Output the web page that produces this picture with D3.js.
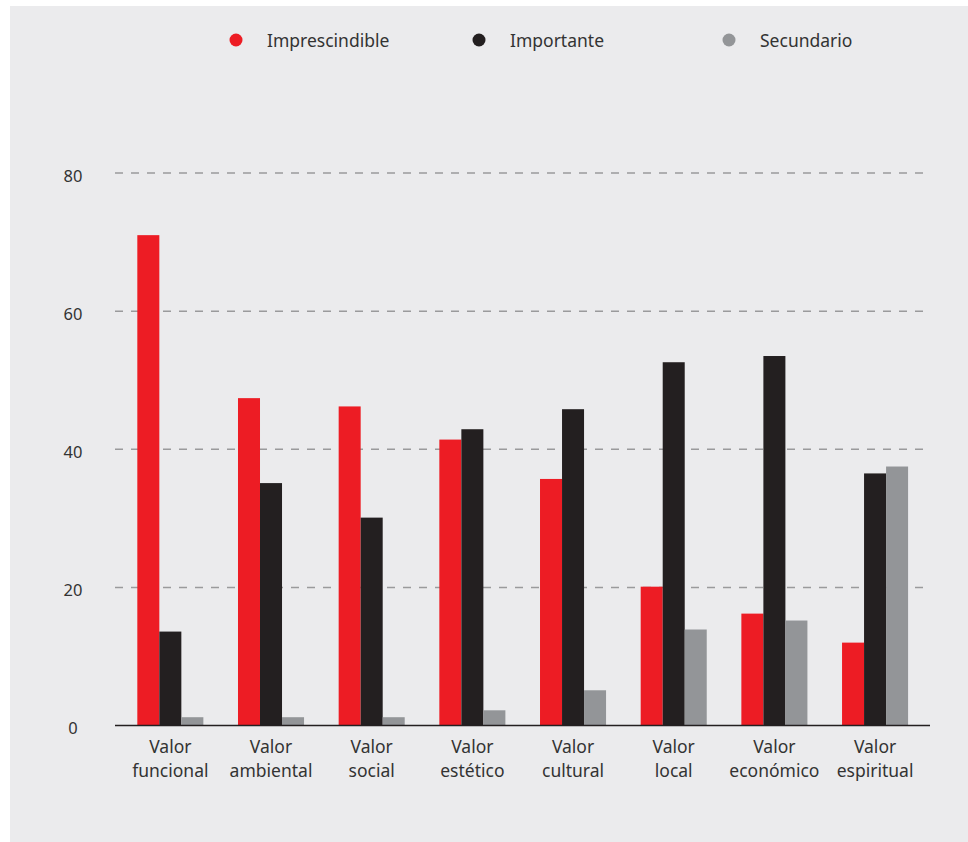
<!DOCTYPE html>
<html>
<head>
<meta charset="utf-8">
<script src="https://cdn.jsdelivr.net/npm/d3@7"></script>
<style>
  html, body { margin: 0; padding: 0; background: #ffffff; }
  svg { display: block; }
  text { font-family: "Noto Sans", sans-serif; fill: #333333; }
</style>
</head>
<body>
<svg id="chart" width="968" height="842"></svg>
<script>
// ---- data ----
const categories = ["Valor funcional", "Valor ambiental", "Valor social", "Valor estético",
                    "Valor cultural", "Valor local", "Valor económico", "Valor espiritual"];
const seriesNames = ["Imprescindible", "Importante", "Secundario"];
const imprescindible = [71.0, 47.4, 46.2, 41.4, 35.7, 20.1, 16.2, 12.0];
const importante     = [13.6, 35.1, 30.1, 42.9, 45.8, 52.6, 53.5, 36.5];
const secundario     = [1.2, 1.2, 1.2, 2.2, 5.1, 13.9, 15.2, 37.5];
const yTicks = [0, 20, 40, 60, 80];
const colors = ["#ed1c24", "#231f20", "#939598"];

const seriesValues = [imprescindible, importante, secundario];

const svg = d3.select("#chart");

// background panel
svg.append("rect").attr("x", 10).attr("y", 6).attr("width", 958).attr("height", 836)
  .attr("fill", "#ebebed");

const x0 = d3.scaleBand().domain(categories).range([120, 925.4])
  .paddingInner(0.344).paddingOuter(0.172);
const x1 = d3.scaleBand().domain(seriesNames).range([0, x0.bandwidth()]);
const y = d3.scaleLinear().domain([0, 80]).range([725.5, 173]);

// gridlines
const grid = svg.append("g");
grid.selectAll("line").data(yTicks.filter(d => d > 0)).join("line")
  .attr("x1", 115).attr("x2", 931)
  .attr("y1", d => y(d)).attr("y2", d => y(d))
  .attr("stroke", "#9a9a9c").attr("stroke-width", 1.5)
  .attr("stroke-dasharray", "8,8");

// y tick labels
svg.append("g").selectAll("text").data(yTicks).join("text")
  .attr("x", 73).attr("y", d => y(d) + 2)
  .attr("text-anchor", "middle").attr("dominant-baseline", "central")
  .attr("font-size", 16.5)
  .text(d => d);

// bars
const groups = svg.append("g").selectAll("g").data(categories).join("g")
  .attr("transform", d => `translate(${x0(d)},0)`);
groups.selectAll("rect")
  .data((c, i) => seriesNames.map((s, j) => ({ s, v: seriesValues[j][i], c: colors[j] })))
  .join("rect")
  .attr("x", d => x1(d.s)).attr("width", x1.bandwidth())
  .attr("y", d => y(d.v)).attr("height", d => y(0) - y(d.v))
  .attr("fill", d => d.c);

// x axis baseline
svg.append("line").attr("x1", 115).attr("x2", 930)
  .attr("y1", y(0)).attr("y2", y(0))
  .attr("stroke", "#231f20").attr("stroke-width", 1.5);

// x labels
const xl = svg.append("g").selectAll("text").data(categories).join("text")
  .attr("text-anchor", "middle").attr("font-size", 17.5);
xl.each(function(d) {
  const parts = d.split(" ");
  const t = d3.select(this);
  const cx = x0(d) + x0.bandwidth() / 2;
  t.append("tspan").attr("x", cx).attr("y", 753).text(parts[0]);
  t.append("tspan").attr("x", cx).attr("y", 777).text(parts.slice(1).join(" "));
});

// legend
const legendX = [236, 479, 729];
const lg = svg.append("g").selectAll("g").data(seriesNames).join("g")
  .attr("transform", (d, i) => `translate(${legendX[i]},40)`);
lg.append("circle").attr("r", 6.5).attr("fill", (d, i) => colors[i]);
lg.append("text").attr("x", 31).attr("y", 0).attr("dominant-baseline", "central")
  .attr("font-size", 17.5).text(d => d);
</script>
</body>
</html>
